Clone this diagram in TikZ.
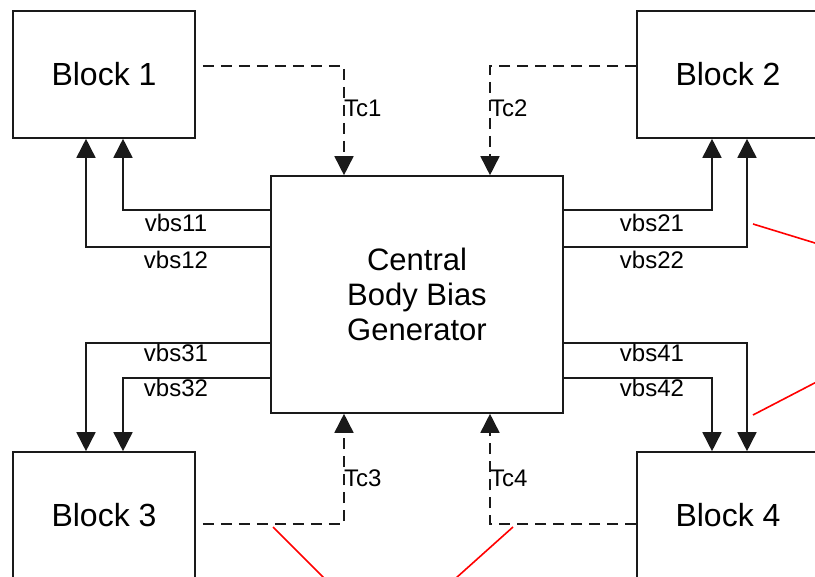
\documentclass[tikz,border=0pt]{standalone}
\usepackage{fontspec}
\setmainfont{Liberation Sans}
\usepackage{tikz}
\usepackage{xcolor}
\usetikzlibrary{arrows.meta}
\definecolor{BBLine}{HTML}{1A1A1A}
\definecolor{BBRed}{HTML}{FF0000}

\begin{document}
\begin{tikzpicture}[
    x=1pt, y=-1pt,
    every node/.style={align=center, inner sep=0pt},
    block/.style={draw=BBLine, line width=1.6pt, minimum width=182pt, minimum height=127pt, font=\fontsize{32}{35}\selectfont},
    gen/.style={draw=BBLine, line width=1.6pt, minimum width=292pt, minimum height=237pt, font=\fontsize{31}{35}\selectfont},
    bias/.style={-{Triangle[width=19pt, length=19pt]}, line width=1.6pt, color=BBLine},
    tctrl/.style={bias, dash pattern=on 11pt off 7pt},
    sig/.style={font=\fontsize{24}{24}\selectfont, anchor=north},
    tclabel/.style={font=\fontsize{24}{24}\selectfont, anchor=west},
    pointer/.style={BBRed, line width=1.6pt}
  ]
    \useasboundingbox (0,0) rectangle (815,577);
    \clip (0,0) rectangle (815,577);

    \node[block] (block1) at (104,74.5) {Block 1};
    \node[block] (block2) at (728,74.5) {Block 2};
    \node[block] (block3) at (104,515.5) {Block 3};
    \node[block] (block4) at (728,515.5) {Block 4};
    \node[gen] (central) at (417,294.5) {Central\\Body Bias\\Generator};

    \draw[bias] ([yshift=-35pt]central.north west) -| ([xshift=19pt]block1.south);
    \draw[bias] ([yshift=-72pt]central.north west) -| ([xshift=-18pt]block1.south);
    \draw[bias] ([yshift=71pt]central.south west) -| ([xshift=-18pt]block3.north);
    \draw[bias] ([yshift=36pt]central.south west) -| ([xshift=19pt]block3.north);
    \draw[bias] ([yshift=-35pt]central.north east) -| ([xshift=-16pt]block2.south);
    \draw[bias] ([yshift=-72pt]central.north east) -| ([xshift=19pt]block2.south);
    \draw[bias] ([yshift=71pt]central.south east) -| ([xshift=19pt]block4.north);
    \draw[bias] ([yshift=36pt]central.south east) -| ([xshift=-16pt]block4.north);

    \node[sig] (vbs11) at (176,214) {vbs11};
    \node[sig] (vbs12) at (176,251) {vbs12};
    \node[sig] (vbs31) at (176,344) {vbs31};
    \node[sig] (vbs32) at (176,379) {vbs32};
    \node[sig] (vbs21) at (652,214) {vbs21};
    \node[sig] (vbs22) at (652,251) {vbs22};
    \node[sig] (vbs41) at (652,344) {vbs41};
    \node[sig] (vbs42) at (652,379) {vbs42};

    \draw[tctrl] ([xshift=7pt, yshift=8.5pt]block1.east) -| ([xshift=-73pt]central.north);
    \draw[tctrl] ([yshift=8.5pt]block2.west) -| ([xshift=73pt]central.north);
    \draw[tctrl] ([xshift=7pt, yshift=-8.5pt]block3.east) -| ([xshift=-73pt]central.south);
    \draw[tctrl] ([yshift=-8.5pt]block4.west) -| ([xshift=73pt]central.south);

    \node[tclabel] (tc1) at (344,108) {Tc1};
    \node[tclabel] (tc2) at (490,108) {Tc2};
    \node[tclabel] (tc3) at (344,478) {Tc3};
    \node[tclabel] (tc4) at (490,478) {Tc4};

    \coordinate (ptr1) at (753,224);
    \coordinate (ptr1end) at (830,247.6);
    \coordinate (ptr2) at (753,415);
    \coordinate (ptr2end) at (830,375);
    \coordinate (ptr3) at (273,527);
    \coordinate (ptr3end) at (333,587);
    \coordinate (ptr4) at (513,527);
    \coordinate (ptr4end) at (446,587);
    \draw[pointer] (ptr1) -- (ptr1end);
    \draw[pointer] (ptr2) -- (ptr2end);
    \draw[pointer] (ptr3) -- (ptr3end);
    \draw[pointer] (ptr4) -- (ptr4end);
  \end{tikzpicture}
\end{document}
